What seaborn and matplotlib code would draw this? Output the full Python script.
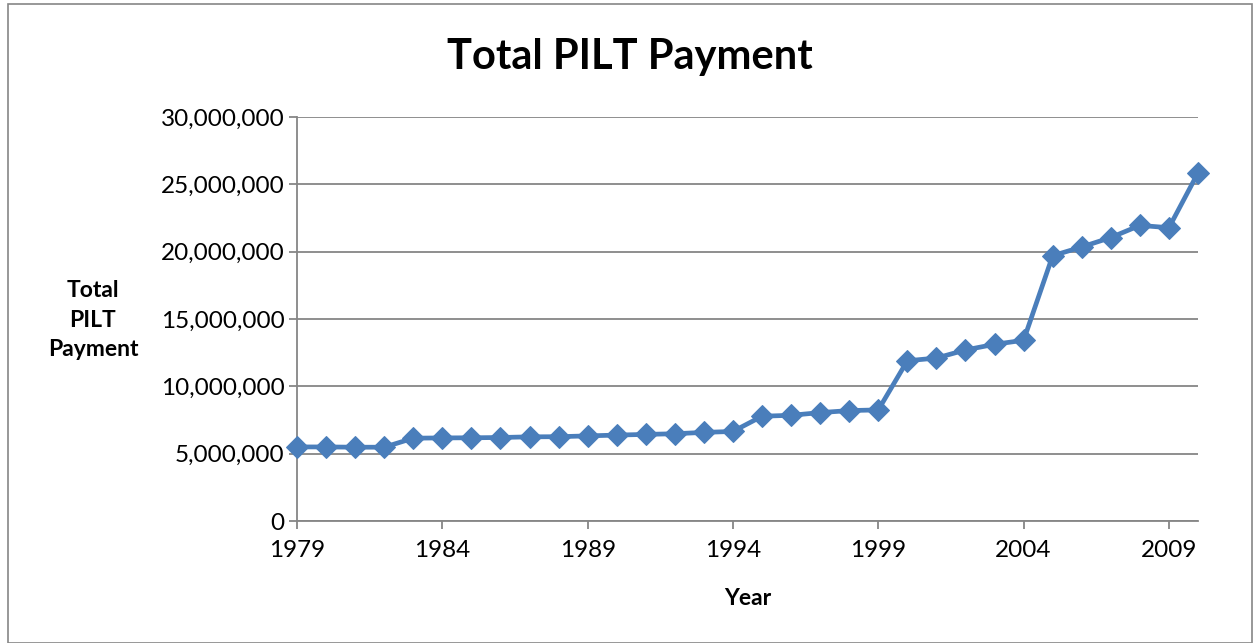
import matplotlib
matplotlib.use("Agg")
import matplotlib.pyplot as plt
import matplotlib.ticker as mticker
from matplotlib.patches import Rectangle
import seaborn as sns
import pandas as pd

years = list(range(1979, 2011))
payments = [5.50e6, 5.50e6, 5.48e6, 5.48e6, 6.15e6, 6.17e6, 6.18e6, 6.20e6,
            6.25e6, 6.26e6, 6.32e6, 6.38e6, 6.43e6, 6.48e6, 6.58e6, 6.65e6,
            7.78e6, 7.85e6, 8.05e6, 8.20e6, 8.25e6, 11.90e6, 12.10e6, 12.70e6,
            13.12e6, 13.42e6, 19.70e6, 20.35e6, 21.05e6, 21.95e6, 21.78e6, 25.85e6]
xtick_years = [1979, 1984, 1989, 1994, 1999, 2004, 2009]
yticks = [0, 5e6, 10e6, 15e6, 20e6, 25e6, 30e6]

df = pd.DataFrame({"Year": years, "Payment": payments})

sns.set_theme(style="white")
plt.rcParams["font.family"] = ["Lato", "DejaVu Sans"]
plt.rcParams["text.color"] = "black"
plt.rcParams["axes.labelcolor"] = "black"

fig = plt.figure(figsize=(12.53, 6.43), dpi=100)
ax = fig.add_axes([297/1253, 1 - 521/643, (1198 - 297)/1253, (521 - 117)/643])

color = "#4A7EBB"
sns.lineplot(data=df, x="Year", y="Payment", ax=ax, color=color, linewidth=3.4,
             marker="D", markersize=11, markeredgecolor=color, markerfacecolor=color,
             clip_on=False, zorder=5)

ax.set_xlim(1979, 2010)
ax.set_ylim(0, 30e6)
ax.set_xticks(xtick_years)
ax.set_yticks(yticks)
ax.yaxis.set_major_formatter(mticker.FuncFormatter(lambda v, p: f"{int(v):,}"))
ax.grid(axis="y", color="#868686", linewidth=1.3)
ax.grid(axis="x", visible=False)
for s in ["top", "right"]:
    ax.spines[s].set_visible(False)
for s in ["left", "bottom"]:
    ax.spines[s].set_color("#868686")
    ax.spines[s].set_linewidth(1.3)
ax.tick_params(axis="both", which="major", length=6, width=1.3, color="#868686",
               labelsize=17.5, labelcolor="black", direction="out")
ax.tick_params(axis="x", bottom=True, pad=8)
ax.tick_params(axis="y", left=True, pad=3)

ax.set_xlabel("Year", fontsize=16.5, fontweight="bold", labelpad=19, color="black")
ax.set_ylabel("")
fig.text(93/1253, 1 - 320/643, "Total\nPILT\nPayment", ha="center", va="center",
         fontsize=16.5, fontweight="bold", linespacing=1.5, color="black")
fig.text(630/1253, 1 - 57/643, "Total PILT Payment", ha="center", va="center",
         fontsize=30, fontweight="bold", color="black")

fig.patches.append(Rectangle((8/1253, 0), 1 - 8/1253 - 0.001, 1 - 4/643,
                             transform=fig.transFigure, fill=False,
                             edgecolor="#868686", linewidth=1.2))

fig.savefig("out.png", dpi=100, facecolor="white")
